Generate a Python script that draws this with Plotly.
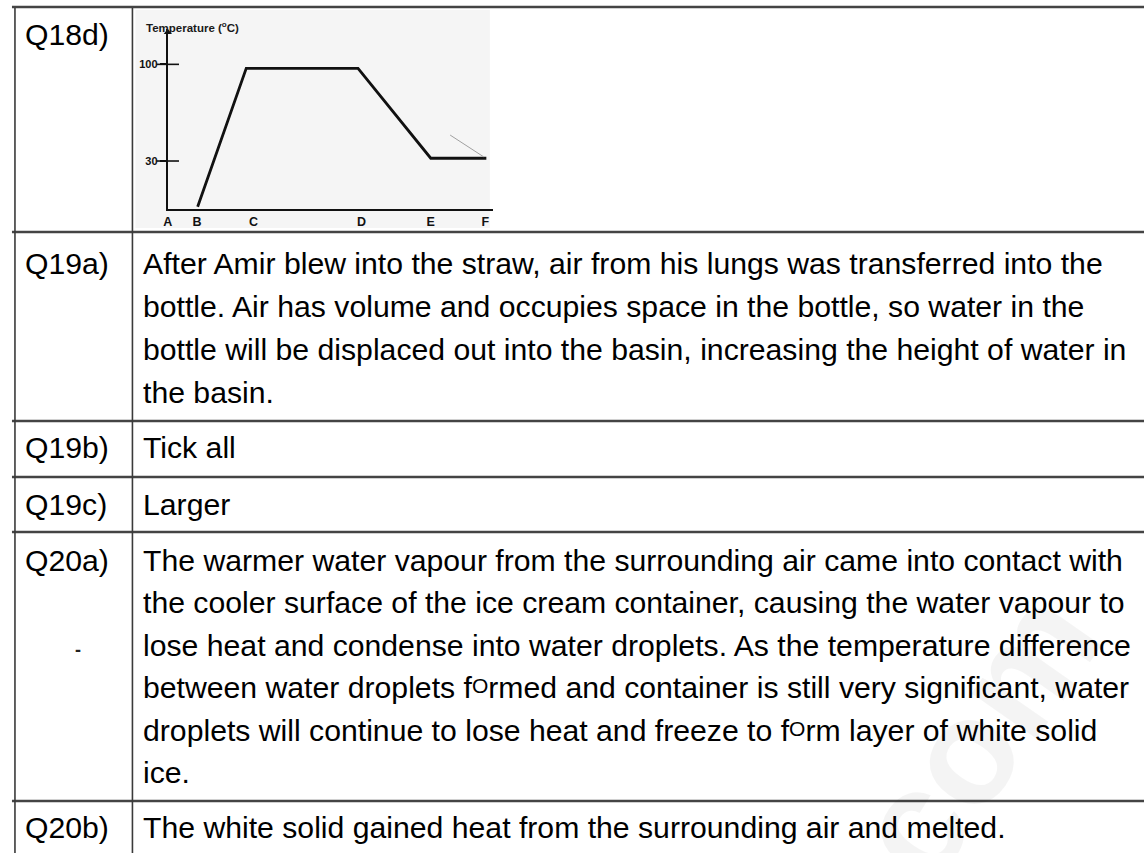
import plotly.graph_objects as go

# ---------------- data ----------------
# Q18d temperature graph (schematic)
time_pos = [0.94, 2.47, 5.99, 8.28, 10.03]
temperature = [-3.1, 97.1, 97.1, 32.0, 32.0]
faint_time = [8.89, 9.94]
faint_temp = [48.8, 33.1]
x_tick_pos = [0.0, 0.92, 2.70, 6.10, 8.28, 10.0]
x_tick_text = ["A", "B", "C", "D", "E", "F"]
y_tick_pos = [30, 100]
y_tick_text = ["30", "100"]

# answer table text
SMALL_O = "<span style='font-size:21px;baseline-shift:5px'>O</span>"
labels = ["Q18d)", "Q19a)", "Q19b)", "Q19c)", "Q20a)", "Q20b)"]
answers = [
    [],
    ["After Amir blew into the straw, air from his lungs was transferred into the",
     "bottle. Air has volume and occupies space in the bottle, so water in the",
     "bottle will be displaced out into the basin, increasing the height of water in",
     "the basin."],
    ["Tick all"],
    ["Larger"],
    ["The warmer water vapour from the surrounding air came into contact with",
     "the cooler surface of the ice cream container, causing the water vapour to",
     "lose heat and condense into water droplets. As the temperature difference",
     "between water droplets f" + SMALL_O + "rmed and container is still very significant, water",
     "droplets will continue to lose heat and freeze to f" + SMALL_O + "rm layer of white solid",
     "ice."],
    ["The white solid gained heat from the surrounding air and melted."],
]

# ---------------- layout geometry (pixels) ----------------
W, H = 1144, 853
FS = 30.2
FONT = "Arial, Liberation Sans, sans-serif"
label_baselines = [45, 274, 458, 515, 570.7, 838]
line_gaps = [43, 43, 43, 43, 42.5, 43]
row_lines_y = [7, 232, 421, 477, 532, 801]
col_lines_x = [10, 128]


def px(x):
    return x / W


def py(y):
    return 1 - y / H


fig = go.Figure()

fig.add_trace(go.Scatter(
    x=time_pos, y=temperature, mode="lines",
    line=dict(color="#111111", width=2.8), cliponaxis=False,
    hoverinfo="skip", showlegend=False))
fig.add_trace(go.Scatter(
    x=faint_time, y=faint_temp, mode="lines",
    line=dict(color="#a0a0a0", width=1), cliponaxis=False,
    hoverinfo="skip", showlegend=False))
fig.add_trace(go.Scatter(
    x=[0] * len(y_tick_pos), y=y_tick_pos, mode="markers",
    marker=dict(symbol="line-ew", size=16, line=dict(color="#111111", width=1.6)),
    cliponaxis=False, hoverinfo="skip", showlegend=False))
# arrow head on the temperature axis
fig.add_trace(go.Scatter(
    x=[0], y=[123.3], mode="markers",
    marker=dict(symbol="triangle-up", size=7, color="#111111"),
    cliponaxis=False, hoverinfo="skip", showlegend=False))

shapes = []
# stippled chart background
shapes.append(dict(type="rect", xref="paper", yref="paper",
                   x0=px(131), x1=px(487), y0=py(228), y1=py(10),
                   fillcolor="#f5f5f5", line=dict(width=0), layer="below"))
for y in row_lines_y:
    shapes.append(dict(type="line", xref="paper", yref="paper",
                       x0=px(7), x1=px(W), y0=py(y), y1=py(y),
                       line=dict(color="#444444", width=2.5)))
for x in col_lines_x:
    shapes.append(dict(type="line", xref="paper", yref="paper",
                       x0=px(x), x1=px(x), y0=py(8), y1=py(H),
                       line=dict(color="#3a3a3a", width=1.6)))

annotations = []
# watermark
annotations.append(dict(text="<b>com</b>", xref="paper", yref="paper",
                        x=px(975), y=py(735), xanchor="center", yanchor="middle",
                        showarrow=False, textangle=-55,
                        font=dict(family=FONT, size=150, color="rgba(0,0,0,0.045)")))

off = 0.3465 * FS
for lab, ans, base, gap in zip(labels, answers, label_baselines, line_gaps):
    annotations.append(dict(text=lab, xref="paper", yref="paper",
                            x=px(17.6), y=py(base - off), xanchor="left", yanchor="middle",
                            showarrow=False, font=dict(family=FONT, size=FS, color="#000")))
    for i, line in enumerate(ans):
        annotations.append(dict(text=line, xref="paper", yref="paper",
                                x=px(137), y=py(base + i * gap - off),
                                xanchor="left", yanchor="middle", showarrow=False,
                                font=dict(family=FONT, size=FS, color="#000")))

# small scan mark in the label column
annotations.append(dict(text="<b>-</b>", xref="paper", yref="paper", x=px(73), y=py(650),
                        xanchor="center", yanchor="middle",
                        showarrow=False, font=dict(family=FONT, size=18, color="#222")))

# graph title
annotations.append(dict(text="<b>Temperature (<sup>o</sup>C)</b>", xref="paper", yref="paper",
                        x=px(140), y=py(27), xanchor="left", yanchor="middle", showarrow=False,
                        font=dict(family=FONT, size=11.5, color="#1a1a1a")))

fig.update_layout(
    width=W, height=H, margin=dict(l=0, r=0, t=0, b=0),
    paper_bgcolor="white", plot_bgcolor="rgba(0,0,0,0)",
    shapes=shapes, annotations=annotations, showlegend=False,
    xaxis=dict(domain=[px(163.5), px(490)], range=[0, 10.235],
               showline=True, linecolor="#111111", linewidth=2,
               showgrid=False, zeroline=False, ticks="",
               tickvals=x_tick_pos, ticktext=x_tick_text,
               tickfont=dict(family=FONT, size=12.5, color="#111111", weight="bold")),
    yaxis=dict(domain=[py(209), py(29)], range=[-4.75, 125.6],
               showline=True, linecolor="#111111", linewidth=2,
               showgrid=False, zeroline=False, ticks="outside", ticklen=6, tickwidth=1.6,
               tickcolor="#111111", tickvals=y_tick_pos, ticktext=y_tick_text,
               tickfont=dict(family=FONT, size=11, color="#111111", weight="bold")),
)

fig.write_html("out.html", config={"displayModeBar": False},
               post_script="document.body.style.margin='0';document.body.style.overflow='hidden';")
